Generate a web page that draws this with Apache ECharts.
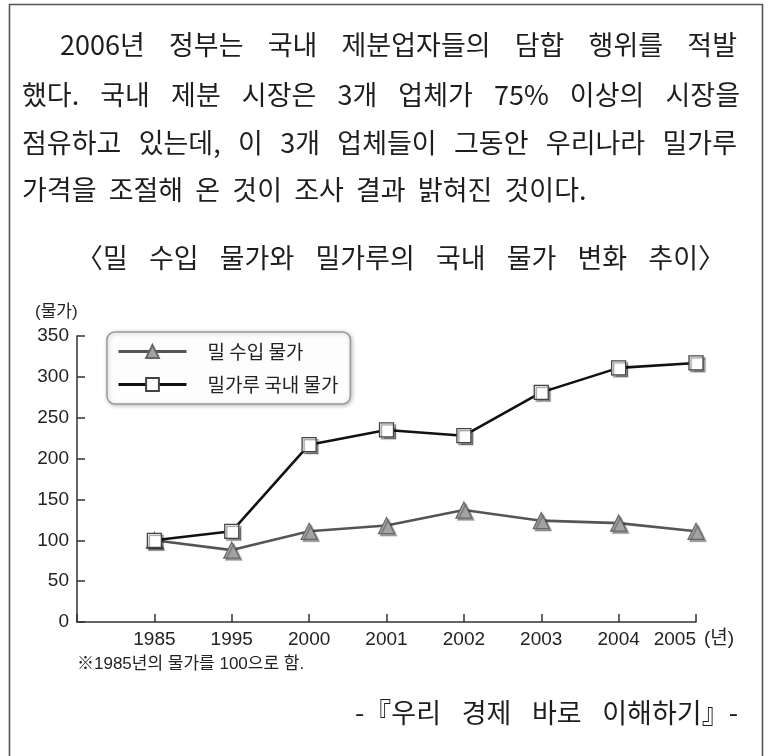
<!DOCTYPE html>
<html><head><meta charset="utf-8">
<script src="https://cdn.jsdelivr.net/npm/echarts/dist/echarts.min.js"></script>
<style>html,body{margin:0;padding:0;background:#fff}#c{width:773px;height:756px}</style>
</head><body><div id="c"></div>
<script>
// ---- data ----
const years = ['', '1985', '1995', '2000', '2001', '2002', '2003', '2004', '2005'];
const wheatImport = [null, 100, 88, 111, 118, 137, 124, 121, 111];
const flourDomestic = [null, 100, 111, 217, 235, 228, 281, 311, 317];
const seriesNames = ['밀 수입 물가', '밀가루 국내 물가'];
const yMin = 0, yMax = 350, yStep = 50;
const bodyLines = [
  '2006년 정부는 국내 제분업자들의 담합 행위를 적발',
  '했다. 국내 제분 시장은 3개 업체가 75% 이상의 시장을',
  '점유하고 있는데, 이 3개 업체들이 그동안 우리나라 밀가루',
  '가격을 조절해 온 것이 조사 결과 밝혀진 것이다.'
];
const chartTitle = '〈밀 수입 물가와 밀가루의 국내 물가 변화 추이〉';
const sourceText = '-『우리 경제 바로 이해하기』-';
const yUnit = '(물가)';
const xUnit = '(년)';
const footnote = '※1985년의 물가를 100으로 함.';

// ---- text layout helper ----
const KR = '"Noto Sans CJK KR"';
const ctx = document.createElement('canvas').getContext('2d');
function layoutWords(text, x0, x1, y, size, justify, gapEm, fill) {
  ctx.font = size + 'px ' + KR;
  const words = text.split(' ');
  const widths = words.map(w => ctx.measureText(w).width);
  const total = widths.reduce((a, b) => a + b, 0);
  const gap = justify ? (x1 - x0 - total) / (words.length - 1) : gapEm * size;
  let x = x0;
  const els = [];
  words.forEach((w, i) => {
    els.push({type: 'text', x: x, y: y, silent: true,
      style: {text: w, fontSize: size, fontFamily: KR, fill: fill || '#1e1e1e', align: 'left', verticalAlign: 'middle'}});
    x += widths[i] + gap;
  });
  return els;
}

const graphics = [];
graphics.push({type: 'rect', shape: {x: 9.5, y: 4.5, width: 753, height: 780}, silent: true,
  style: {fill: 'none', stroke: '#555', lineWidth: 1.6}});
graphics.push(...layoutWords(bodyLines[0], 60, 737, 45, 27, true));
graphics.push(...layoutWords(bodyLines[1], 22, 740, 95, 27, true));
graphics.push(...layoutWords(bodyLines[2], 22, 737, 143, 27, true));
graphics.push(...layoutWords(bodyLines[3], 22, 0, 190, 27, false, 0.45));
graphics.push(...layoutWords(chartTitle, 76, 725, 258, 27, true));
graphics.push(...layoutWords(sourceText, 355, 738, 713, 27, true));
graphics.push({type: 'text', x: 35, y: 312, silent: true,
  style: {text: yUnit, fontSize: 17, fontFamily: '"Liberation Sans", ' + KR, fill: '#222', verticalAlign: 'middle'}});
graphics.push({type: 'text', x: 704, y: 639, silent: true,
  style: {text: xUnit, fontSize: 19, fontFamily: '"Liberation Sans", ' + KR, fill: '#222', verticalAlign: 'middle'}});
graphics.push({type: 'text', x: 77, y: 664, silent: true,
  style: {text: footnote, fontSize: 17, fontFamily: '"Liberation Sans", ' + KR, fill: '#222', verticalAlign: 'middle'}});

const chart = echarts.init(document.getElementById('c'), null, {renderer: 'canvas'});
const axisFont = '"Liberation Sans", Arial, sans-serif';
chart.setOption({
  animation: false,
  backgroundColor: '#fff',
  grid: {left: 77, right: 77, top: 336, bottom: 134, containLabel: false},
  legend: {
    orient: 'vertical', left: 107, top: 332,
    padding: [10, 12, 10, 10], itemGap: 14, itemWidth: 68, itemHeight: 16,
    selectedMode: false,
    lineStyle: {width: 3},
    backgroundColor: '#fdfdfd', borderColor: '#999', borderWidth: 1.5, borderRadius: 8,
    shadowColor: 'rgba(0,0,0,0.25)', shadowBlur: 4, shadowOffsetX: 1, shadowOffsetY: 1,
    textStyle: {fontSize: 19, fontFamily: KR, color: '#222', padding: [0, 0, 0, 16]},
    data: seriesNames
  },
  xAxis: {
    type: 'category', boundaryGap: false,
    data: years.map((y, i) => i === years.length - 1 ? {value: y, textStyle: {align: 'right'}} : y),
    axisLine: {lineStyle: {color: '#333', width: 1.5}},
    axisTick: {inside: true, length: 8, interval: 0, lineStyle: {color: '#333', width: 1.5}},
    axisLabel: {interval: 0, margin: 8, fontSize: 19, fontFamily: axisFont, color: '#222'},
    splitLine: {show: false}
  },
  yAxis: {
    type: 'value', min: yMin, max: yMax, interval: yStep,
    axisLine: {show: true, lineStyle: {color: '#333', width: 1.5}},
    axisTick: {show: true, inside: true, length: 8, lineStyle: {color: '#333', width: 1.5}},
    axisLabel: {margin: 8, fontSize: 19, fontFamily: axisFont, color: '#222'},
    splitLine: {show: false}
  },
  series: [
    {
      name: seriesNames[0], type: 'line', data: wheatImport, connectNulls: false,
      symbol: 'triangle', symbolSize: 16, showAllSymbol: true,
      lineStyle: {color: '#555', width: 2.6},
      itemStyle: {color: '#a3a3a3', borderColor: '#666', borderWidth: 1.2,
        shadowColor: 'rgba(0,0,0,0.35)', shadowOffsetX: 2, shadowOffsetY: 2, shadowBlur: 1},
      z: 2
    },
    {
      name: seriesNames[1], type: 'line', data: flourDomestic, connectNulls: false,
      symbol: 'rect', symbolSize: 14, showAllSymbol: true,
      lineStyle: {color: '#111', width: 2.6},
      itemStyle: {color: '#fff', borderColor: '#444', borderWidth: 1.3,
        shadowColor: 'rgba(0,0,0,0.4)', shadowOffsetX: 2, shadowOffsetY: 2, shadowBlur: 1},
      z: 3
    }
  ],
  graphic: graphics
});
</script>
</body></html>
